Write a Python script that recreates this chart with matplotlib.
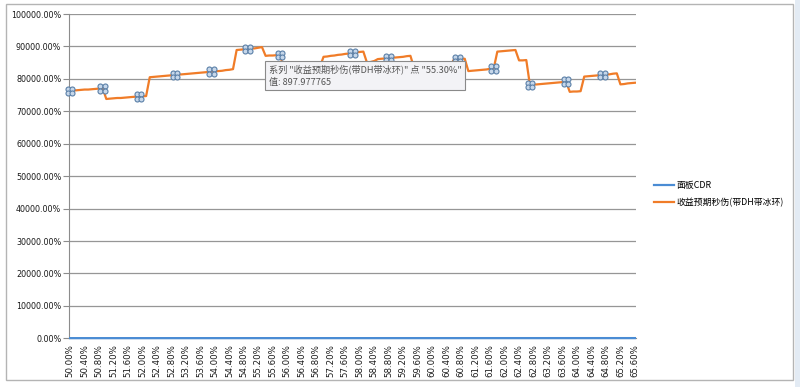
import matplotlib
matplotlib.use('Agg')
import matplotlib.pyplot as plt
from matplotlib.transforms import offset_copy
from matplotlib.ticker import FuncFormatter, MultipleLocator
from matplotlib.patches import Rectangle
import numpy as np

plt.rcParams['font.family'] = ['DejaVu Sans', 'Noto Sans CJK SC']

# categories: 50.0% .. 65.6% in 0.1% steps
categories = [round(50 + 0.1 * i, 1) for i in range(157)]

# 面板CDR (sits on the 0 baseline at this scale)
cdr = [c / 100 for c in categories]

# 收益预期秒伤(带DH带冰环)
dps = [763, 764, 765, 766, 767, 767, 768, 769, 770, 771,
       738, 739, 740, 741, 741, 742, 743, 744, 745, 745, 746, 747,
       805, 806, 807, 808, 809, 810, 811, 812, 813, 814, 815, 816, 817, 818,
       819, 820, 821, 822, 823, 824, 825, 827, 828, 830,
       889, 890, 891, 892, 893, 894, 896, 897.977765,
       871, 872, 872, 873, 874,
       832, 832, 833, 833, 834, 834, 835, 835, 836, 836, 837,
       868, 869, 871, 872, 874, 875, 877, 878, 880, 881, 883, 884,
       850, 852, 855,
       861, 862, 863, 864, 865, 866, 867, 868, 870, 871,
       834, 834, 835, 835, 836, 836, 837, 837, 838, 838, 839,
       860, 861, 862, 862,
       824, 825, 826, 827, 828, 829, 831, 832,
       884, 885, 886, 887, 888, 889,
       857, 857, 858,
       781, 782, 783, 784, 785, 786, 787, 788, 789, 790, 791,
       760, 761, 761, 762,
       807, 808, 809, 810, 811, 812, 813, 814, 816, 817,
       783, 784, 786, 787, 788]

series_names = ['面板CDR', '收益预期秒伤(带DH带冰环)']
tick_step = 4
handle_idx = [0, 9, 19, 29, 39, 49, 58, 68, 78, 88, 98, 107, 117, 127, 137, 147]

W, H = 800, 387
fig = plt.figure(figsize=(W / 100, H / 100), dpi=100)
fig.patch.set_facecolor('white')

# chart frame
fig.patches.append(Rectangle((6 / W, 7 / H), 787 / W, 376 / H, transform=fig.transFigure,
                             fill=False, ec='#b4b4b4', lw=1.0))
fig.patches.append(Rectangle((795 / W, 0), 5 / W, 1, transform=fig.transFigure,
                             fc='#e3ebf4', ec='none'))

ax = fig.add_axes([69 / W, 1 - 338.3 / H, (636 - 69) / W, (338.3 - 14) / H])
x = np.arange(len(categories))
dps_arr = np.array(dps, dtype=float)

ax.plot(x, dps_arr, color='#f07c28', lw=1.6, label=series_names[1], zorder=3)
ax.plot(x, cdr, color='#4a8cd4', lw=1.6, label=series_names[0], zorder=4, clip_on=False)

for dx, dy in [(-2.3, 2.3), (2.3, 2.3), (-2.3, -2.3), (2.3, -2.3)]:
    tr = offset_copy(ax.transData, fig=fig, x=dx, y=dy, units='dots')
    ax.plot(x[handle_idx], dps_arr[handle_idx], 'o', ms=3.6, mfc='#c6d7ea', mec='#5b80a8',
            mew=0.8, transform=tr, zorder=5, clip_on=False)

ax.set_xlim(-0.3, len(categories) - 1 + 0.3)
ax.set_ylim(0, 1000)
ax.yaxis.set_major_locator(MultipleLocator(100))
ax.yaxis.set_major_formatter(FuncFormatter(lambda v, p: f'{v * 100:.2f}%'))
ax.set_xticks(x[::tick_step])
ax.set_xticklabels([f'{c:.2f}%' for c in categories[::tick_step]], rotation=90)
ax.grid(axis='y', color='#969696', lw=0.9)
ax.set_axisbelow(True)
for s in ['top', 'right']:
    ax.spines[s].set_visible(False)
ax.spines['left'].set_color('#8c8c8c')
ax.spines['bottom'].set_color('#8c8c8c')
ax.tick_params(axis='y', length=4, color='#8c8c8c', labelsize=5.8, labelcolor='#1a1a1a', pad=1.5)
ax.tick_params(axis='x', length=0, labelsize=6.2, labelcolor='#1a1a1a', pad=4)

handles, labels = ax.get_legend_handles_labels()
order = [1, 0]
fig.legend([handles[i] for i in order], [labels[i] for i in order], loc='upper left',
           bbox_to_anchor=(646 / W, 1 - 173 / H), frameon=False,
           handlelength=2.2, handletextpad=0.3, labelspacing=0.85,
           prop={'family': ['Noto Sans CJK SC', 'DejaVu Sans'], 'size': 6.4})

tip = '系列 "收益预期秒伤(带DH带冰环)" 点 "55.30%"\n值: 897.977765'
fig.text(269 / W, 1 - 64.5 / H, tip, ha='left', va='top', fontsize=6.6, color='#555555',
         family=['Noto Sans CJK SC', 'DejaVu Sans'], linespacing=1.45, zorder=10,
         bbox=dict(boxstyle='square,pad=0.4', fc='#f3f3f6', ec='#8a8a8a', lw=0.8))

fig.savefig('out.png', dpi=100)
